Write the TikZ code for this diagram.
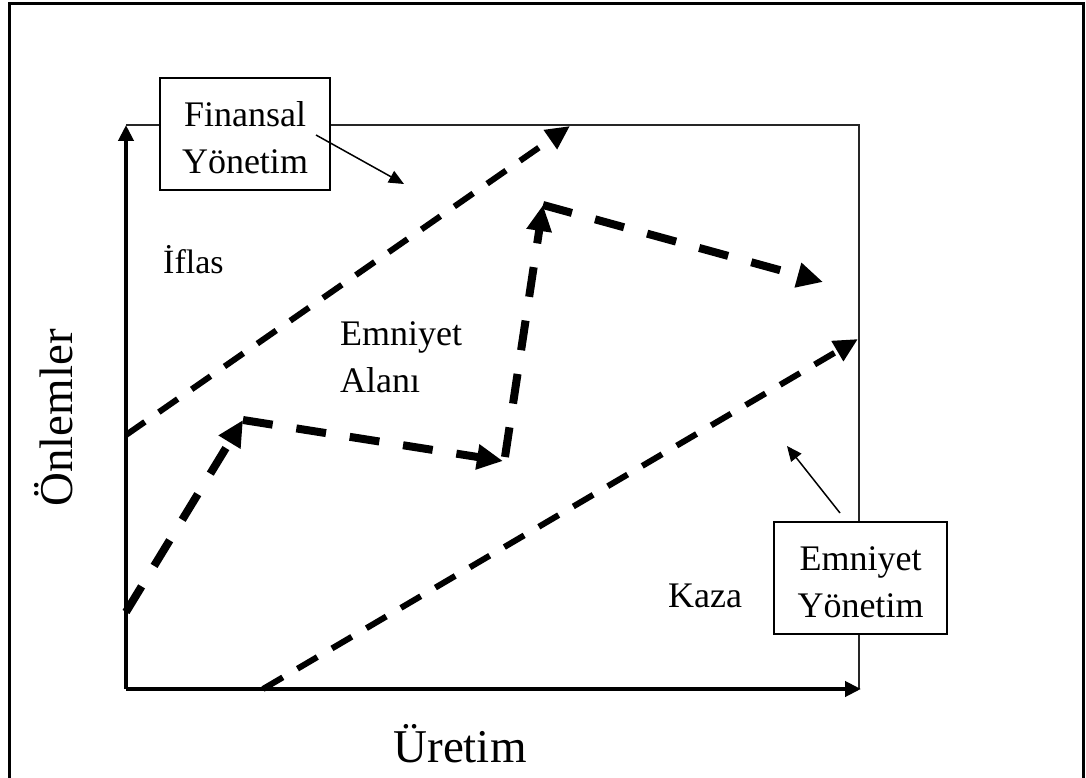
\documentclass[tikz,border=0pt]{standalone}
\usepackage{fontspec}
\setmainfont{Liberation Serif}
\usetikzlibrary{arrows.meta}
\begin{document}
\begin{tikzpicture}[x=1pt,y=-1pt,
  axis/.style={line width=4pt,-{Triangle[length=16pt,width=15pt]}},
  guide/.style={line width=1.2pt,black!85},
  zone/.style={line width=6pt,dash pattern=on 23pt off 17pt,-{Triangle[length=24pt,width=22pt]}},
  route/.style={line width=8pt,dash pattern=on 30pt off 24pt,-{Triangle[length=26pt,width=24pt]}},
  pointer/.style={line width=1.5pt,-{Triangle[length=15pt,width=13pt]}},
  lbl/.style={inner sep=0pt,font=\fontsize{36}{47}\selectfont},
  axlbl/.style={inner sep=0pt,font=\fontsize{47}{50}\selectfont},
  mgmt/.style={draw,line width=1.5pt,fill=white,minimum width=170pt,minimum height=112pt,
    align=center,inner sep=0pt,font=\fontsize{36}{47}\selectfont}]
\useasboundingbox (0,0) rectangle (1086,778);

% outer frame (open at the bottom)
\draw[line width=3pt] (9,790) -- (9,4) -- (1083,4) -- (1083,790);

% axes and thin guide lines
\coordinate (O) at (126,689);
\coordinate (Ytop) at (126,125);
\coordinate (Xend) at (861,689);
\coordinate (TR) at (859,125);
\coordinate (BR) at (859,689);
\draw[guide] (Ytop) -- (TR) -- (BR);
\draw[axis] (O) -- (Ytop);
\draw[axis] (O) -- (Xend);

% boundary lines
\coordinate (a0) at (126,435);
\coordinate (a1) at (570,126);
\coordinate (b0) at (263,689);
\coordinate (b1) at (858,339);
\draw[zone] (a0) -- (a1);
\draw[zone] (b0) -- (b1);

% company trajectory
\coordinate (r0) at (126,612);
\coordinate (r1) at (243,420);
\coordinate (r2) at (503,461);
\coordinate (r2b) at (505,457);
\coordinate (r3) at (543,205);
\coordinate (r4) at (823,282);
\draw[route] (r0) -- (r1);
\draw[route] (r1) -- (r2);
\draw[route] (r2b) -- (r3);
\draw[route] (r3) -- (r4);

% management boxes
\node[mgmt] (fin) at (245,134) {\rule{0pt}{32pt}Finansal\\Yönetim};
\node[mgmt,minimum width=173pt] (emn) at (860.5,578) {\rule{0pt}{32pt}Emniyet\\Yönetim};
\coordinate (f1) at (316,135);
\coordinate (f2) at (404,184);
\coordinate (e1) at (840,513);
\coordinate (e2) at (787,446);
\draw[pointer] (f1) -- (f2);
\draw[pointer] (e1) -- (e2);

% region labels
\node[lbl,anchor=base west,font=\fontsize{34}{40}\selectfont] (iflas) at (163,273) {İflas};
\node[lbl,anchor=north west,align=left] (alan) at (340,321) {Emniyet\\Alanı};
\node[lbl,anchor=base west] (kaza) at (668,607) {Kaza};

% axis labels
\node[axlbl,anchor=base] (uretim) at (460,762) {Üretim};
\node[axlbl,anchor=base,rotate=90] (onlem) at (72,418) {Önlemler};
\end{tikzpicture}
\end{document}
